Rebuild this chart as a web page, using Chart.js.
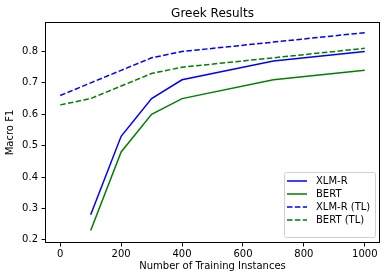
<!DOCTYPE html>
<html>
<head>
<meta charset="utf-8">
<script src="https://cdn.jsdelivr.net/npm/chart.js@4"></script>
<style>
    html, body { margin: 0; padding: 0; background: #fff; }
    canvas { display: block; }
</style>
</head>
<body>
<canvas id="chart" width="389" height="278"></canvas>
<script>
// Training set sizes on the x axis
const trainSizes = [0, 100, 200, 300, 400, 700, 1000];

// Macro F1 per series (null = no run at that size)
const xlmrScores   = [null, 0.28, 0.53, 0.65, 0.71, 0.77, 0.80];
const bertScores   = [null, 0.23, 0.48, 0.60, 0.65, 0.71, 0.74];
const xlmrTlScores = [0.66, 0.70, 0.74, 0.78, 0.80, 0.83, 0.86];
const bertTlScores = [0.63, 0.65, 0.69, 0.73, 0.75, 0.78, 0.81];

// Tick labels
const xTicks = [0, 200, 400, 600, 800, 1000];
const yTicks = [0.2, 0.3, 0.4, 0.5, 0.6, 0.7, 0.8];

const FONT = 'DejaVu Sans';
const TITLE = 'Greek Results';

function toPoints(values) {
    return trainSizes
        .map((x, i) => ({ x: x, y: values[i] }))
        .filter(p => p.y !== null);
}

/**
 * Draw the four axes spines like matplotlib
 */
const framePlugin = {
    id: 'frame',
    afterDatasetsDraw(chart) {
        const { ctx, chartArea } = chart;
        ctx.save();
        ctx.strokeStyle = '#000';
        ctx.lineWidth = 1;
        ctx.strokeRect(
            Math.round(chartArea.left) + 0.5,
            Math.round(chartArea.top) + 0.5,
            Math.round(chartArea.right - chartArea.left) - 1,
            Math.round(chartArea.bottom - chartArea.top) - 1
        );
        ctx.restore();
    }
};

/**
 * Title centred over the plot area (not the whole canvas)
 */
const axesTitle = {
    id: 'axesTitle',
    afterDraw(chart) {
        const { ctx, chartArea } = chart;
        ctx.save();
        ctx.font = '12px "' + FONT + '"';
        ctx.fillStyle = '#000';
        ctx.textAlign = 'center';
        ctx.textBaseline = 'alphabetic';
        ctx.fillText(TITLE, (chartArea.left + chartArea.right) / 2, chartArea.top - 5.5);
        ctx.restore();
    }
};

/**
 * Legend box in the lower right corner of the plot
 */
const insideLegend = {
    id: 'insideLegend',
    afterDraw(chart) {
        const { ctx, chartArea } = chart;
        const datasets = chart.data.datasets;
        const w = 91, h = 65;
        const right = chartArea.right - 5;
        const bottom = chartArea.bottom - 6;
        const left = right - w;
        const top = bottom - h;

        ctx.save();
        // frame
        ctx.beginPath();
        ctx.roundRect(left + 0.5, top + 0.5, w, h, 2);
        ctx.fillStyle = 'rgba(255,255,255,0.8)';
        ctx.fill();
        ctx.strokeStyle = '#d0d0d0';
        ctx.lineWidth = 1;
        ctx.stroke();

        ctx.font = '10px "' + FONT + '"';
        ctx.textBaseline = 'middle';
        ctx.textAlign = 'left';
        datasets.forEach((ds, i) => {
            const y = top + 9 + i * 13;
            ctx.beginPath();
            ctx.setLineDash(ds.borderDash || []);
            ctx.strokeStyle = ds.borderColor;
            ctx.lineWidth = ds.borderWidth;
            ctx.moveTo(left + 3, y);
            ctx.lineTo(left + 23, y);
            ctx.stroke();
            ctx.setLineDash([]);
            ctx.fillStyle = '#000';
            ctx.fillText(ds.label, left + 32, y);
        });
        ctx.restore();
    }
};

function makeDataset(label, values, color, dashed) {
    return {
        label: label,
        data: toPoints(values),
        borderColor: color,
        backgroundColor: color,
        borderWidth: 1.5,
        borderDash: dashed ? [5.5, 2.4] : [],
        pointRadius: 0,
        tension: 0,
        fill: false
    };
}

const ctx = document.getElementById('chart');

new Chart(ctx, {
    type: 'line',
    data: {
        datasets: [
            makeDataset('XLM-R', xlmrScores, '#0000ff', false),
            makeDataset('BERT', bertScores, '#008000', false),
            makeDataset('XLM-R (TL)', xlmrTlScores, '#0000ff', true),
            makeDataset('BERT (TL)', bertTlScores, '#008000', true)
        ]
    },
    options: {
        responsive: false,
        devicePixelRatio: 1,
        animation: false,
        layout: {
            padding: { left: 0, right: 9, top: 22, bottom: 0 }
        },
        scales: {
            x: {
                type: 'linear',
                min: -50,
                max: 1050,
                afterBuildTicks(scale) {
                    scale.ticks = xTicks.map(v => ({ value: v }));
                },
                afterFit(scale) {
                    scale.height = 35;
                },
                border: { display: false },
                grid: {
                    drawOnChartArea: false,
                    drawTicks: true,
                    tickLength: 3.5,
                    tickColor: '#000',
                    tickWidth: 1
                },
                ticks: {
                    color: '#000',
                    padding: 2,
                    maxRotation: 0,
                    font: { family: FONT, size: 10 },
                    callback: v => String(v)
                },
                title: {
                    display: true,
                    text: 'Number of Training Instances',
                    color: '#000',
                    font: { family: FONT, size: 10 },
                    padding: { top: 0, bottom: 5.3 }
                }
            },
            y: {
                min: 0.19,
                max: 0.894,
                afterBuildTicks(scale) {
                    scale.ticks = yTicks.map(v => ({ value: v }));
                },
                afterFit(scale) {
                    scale.width = 45;
                },
                border: { display: false },
                grid: {
                    drawOnChartArea: false,
                    drawTicks: true,
                    tickLength: 3.5,
                    tickColor: '#000',
                    tickWidth: 1
                },
                ticks: {
                    color: '#000',
                    padding: 3.5,
                    font: { family: FONT, size: 10 },
                    callback: v => v.toFixed(1)
                },
                title: {
                    display: true,
                    text: 'Macro F1',
                    color: '#000',
                    font: { family: FONT, size: 10 },
                    padding: { top: 4, bottom: 0 }
                }
            }
        },
        plugins: {
            legend: { display: false },
            tooltip: { enabled: false },
            title: { display: false }
        }
    },
    plugins: [framePlugin, axesTitle, insideLegend]
});
</script>
</body>
</html>
